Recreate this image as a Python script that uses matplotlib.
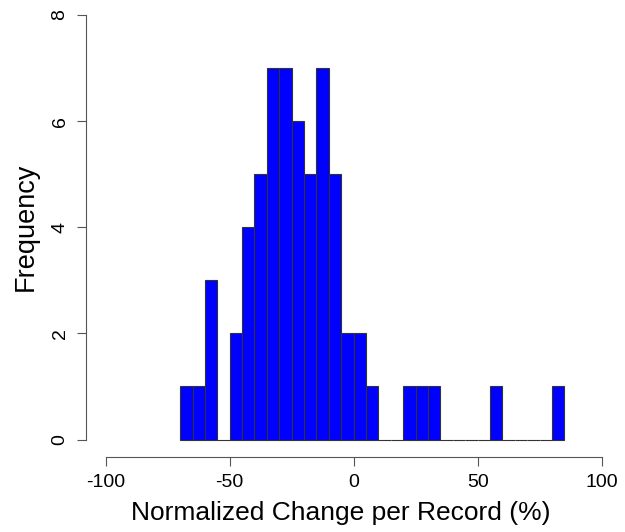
import numpy as np
import matplotlib.pyplot as plt

plt.rcParams['font.family'] = ['Liberation Sans', 'DejaVu Sans']
plt.rcParams['axes.unicode_minus'] = False

# Histogram bins (width 5) and counts
bin_edges = np.arange(-70, 90, 5)
counts = [1, 1, 3, 0, 2, 4, 5, 7, 7, 6, 5, 7, 5, 2, 2, 1,
          0, 0, 1, 1, 1, 0, 0, 0, 0, 1, 0, 0, 0, 0, 1]
x_ticks = [-100, -50, 0, 50, 100]
y_ticks = [0, 2, 4, 6, 8]

fig = plt.figure(figsize=(6.25, 5.32), dpi=100)
ax = fig.add_axes([0.1374, 0.1419, 0.857, 0.8618])

ax.bar(bin_edges[:-1], counts, width=5, align='edge',
       color='#0000FF', edgecolor='#333333', linewidth=0.8)

ax.set_xlim(-108, 108)
ax.set_ylim(-0.32, 8.32)

# R-style axes
for side in ['top', 'right']:
    ax.spines[side].set_visible(False)
ax.spines['left'].set_bounds(0, 8)
ax.spines['bottom'].set_bounds(-100, 100)
ax.spines['left'].set_color('#555555')
ax.spines['bottom'].set_color('#555555')

ax.set_xticks(x_ticks)
ax.set_yticks(y_ticks)
ax.tick_params(axis='both', length=6.5, color='#555555', labelsize=14)
ax.tick_params(axis='x', pad=6)
ax.tick_params(axis='y', pad=6)
for lab in ax.get_yticklabels():
    lab.set_rotation(90)
    lab.set_va('center')

ax.set_xlabel("Normalized Change per Record (%)", fontsize=19, labelpad=7)
ax.xaxis.label.set_x(0.476)
ax.set_ylabel("Frequency", fontsize=19.5, labelpad=9)

fig.savefig("out.png", dpi=100)
